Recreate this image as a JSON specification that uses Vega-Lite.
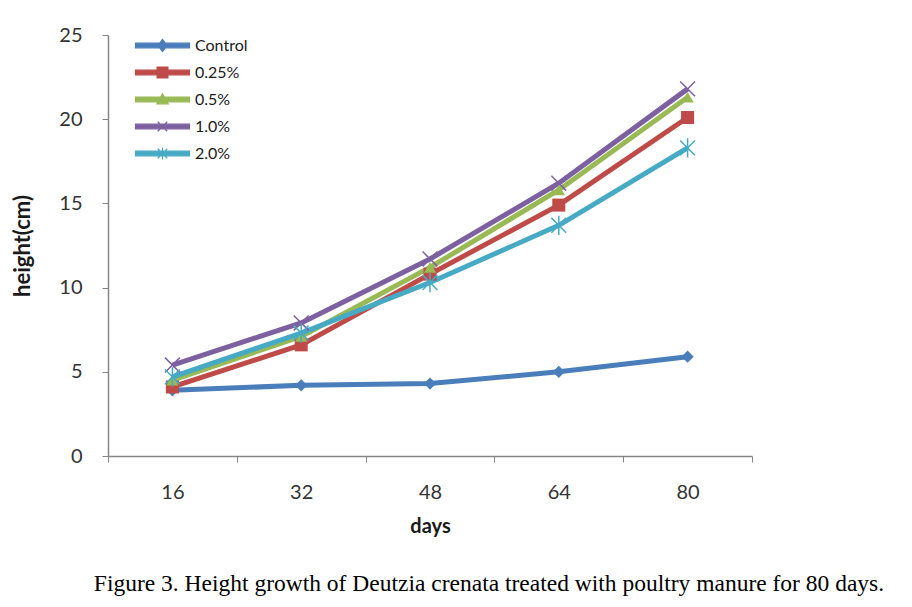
{
  "$schema": "https://vega.github.io/schema/vega-lite/v6.json",
  "autosize": "none",
  "width": 644,
  "height": 421,
  "padding": {"left": 108, "top": 35, "right": 160, "bottom": 151},
  "background": "white",
  "config": {
    "view": {"stroke": null},
    "font": "Lato"
  },
  "title": {
    "text": "Figure 3. Height growth of Deutzia crenata treated with poultry manure for 80 days.",
    "orient": "bottom",
    "anchor": "middle",
    "font": "Liberation Serif",
    "fontSize": 23.5,
    "fontWeight": "normal",
    "color": "#000000",
    "offset": 36,
    "dx": 59
  },
  "data": {
    "values": [
      {"days": "16", "series": "Control", "height": 3.9},
      {"days": "32", "series": "Control", "height": 4.2},
      {"days": "48", "series": "Control", "height": 4.3},
      {"days": "64", "series": "Control", "height": 5.0},
      {"days": "80", "series": "Control", "height": 5.9},
      {"days": "16", "series": "0.25%", "height": 4.1},
      {"days": "32", "series": "0.25%", "height": 6.6},
      {"days": "48", "series": "0.25%", "height": 10.8},
      {"days": "64", "series": "0.25%", "height": 14.9},
      {"days": "80", "series": "0.25%", "height": 20.1},
      {"days": "16", "series": "0.5%", "height": 4.5},
      {"days": "32", "series": "0.5%", "height": 7.1},
      {"days": "48", "series": "0.5%", "height": 11.2},
      {"days": "64", "series": "0.5%", "height": 15.8},
      {"days": "80", "series": "0.5%", "height": 21.3},
      {"days": "16", "series": "1.0%", "height": 5.4},
      {"days": "32", "series": "1.0%", "height": 7.9},
      {"days": "48", "series": "1.0%", "height": 11.7},
      {"days": "64", "series": "1.0%", "height": 16.2},
      {"days": "80", "series": "1.0%", "height": 21.8},
      {"days": "16", "series": "2.0%", "height": 4.7},
      {"days": "32", "series": "2.0%", "height": 7.3},
      {"days": "48", "series": "2.0%", "height": 10.3},
      {"days": "64", "series": "2.0%", "height": 13.7},
      {"days": "80", "series": "2.0%", "height": 18.3}
    ]
  },
  "encoding": {
    "x": {
      "field": "days",
      "type": "ordinal",
      "sort": ["16", "32", "48", "64", "80"],
      "scale": {"paddingInner": 0, "paddingOuter": 0},
      "axis": {
        "title": "days",
        "titleFont": "Lato",
        "titleFontSize": 20,
        "titleFontWeight": "bold",
        "titleColor": "#1a1a1a",
        "titlePadding": 14,
        "labelAngle": 0,
        "labelFont": "Lato",
        "labelFontSize": 20,
        "labelColor": "#333333",
        "labelPadding": 20,
        "tickBand": "extent",
        "tickSize": 6,
        "tickColor": "#868686",
        "domainColor": "#868686",
        "domainWidth": 1.5,
        "grid": false
      }
    },
    "y": {
      "field": "height",
      "type": "quantitative",
      "scale": {"domain": [0, 25]},
      "axis": {
        "title": "height(cm)",
        "titleFont": "Lato",
        "titleFontSize": 22,
        "titleFontWeight": "bold",
        "titleColor": "#1a1a1a",
        "titlePadding": 24,
        "values": [0, 5, 10, 15, 20, 25],
        "labelFont": "Lato",
        "labelFontSize": 20,
        "labelColor": "#333333",
        "labelPadding": 20,
        "tickSize": 6,
        "tickColor": "#868686",
        "domainColor": "#868686",
        "domainWidth": 1.5,
        "grid": false
      }
    }
  },
  "layer": [
    {
      "mark": {"type": "line", "strokeWidth": 5},
      "encoding": {
        "color": {
          "field": "series",
          "type": "nominal",
          "sort": ["Control", "0.25%", "0.5%", "1.0%", "2.0%"],
          "scale": {
            "domain": ["Control", "0.25%", "0.5%", "1.0%", "2.0%"],
            "range": ["#4A7EBB", "#BE4B48", "#98B954", "#7D60A0", "#46AAC5"]
          },
          "legend": {
            "title": null,
            "orient": "none",
            "legendX": 40,
            "legendY": -4,
            "padding": 0,
            "rowPadding": 4,
            "symbolSize": 729,
            "labelOffset": 18,
            "labelFont": "Lato",
            "labelFontSize": 16,
            "labelColor": "#1a1a1a",
            "encode": {
              "symbols": {
                "update": {
                  "shape": {"signal": "datum.value === 'Control' ? 'M-2,-0.17H2V0.17H-2Z M0,-0.45L0.34,0L0,0.45L-0.34,0Z' : datum.value === '0.25%' ? 'M-2,-0.17H2V0.17H-2Z M-0.4,-0.4H0.4V0.4H-0.4Z' : datum.value === '0.5%' ? 'M-2,-0.17H2V0.17H-2Z M0,-0.42L0.42,0.32H-0.42Z' : datum.value === '1.0%' ? 'M-2,-0.17H2V0.17H-2Z M-0.35,-0.35L0.35,0.35M-0.35,0.35L0.35,-0.35' : 'M-2,-0.17H2V0.17H-2Z M-0.35,-0.35L0.35,0.35M-0.35,0.35L0.35,-0.35M0,-0.45V0.45'"},
                  "fill": {"scale": "color", "field": "value"},
                  "stroke": {"scale": "color", "field": "value"},
                  "strokeWidth": {"value": 1.2},
                  "fillOpacity": {"value": 1},
                  "size": {"value": 729}
                }
              }
            }
          }
        }
      }
    },
    {
      "transform": [{"filter": "datum.series === 'Control'"}],
      "mark": {"type": "point", "shape": "diamond", "filled": true, "opacity": 1, "color": "#4A7EBB", "size": 150}
    },
    {
      "transform": [{"filter": "datum.series === '0.25%'"}],
      "mark": {"type": "point", "shape": "square", "filled": true, "opacity": 1, "color": "#BE4B48", "size": 170}
    },
    {
      "transform": [{"filter": "datum.series === '0.5%'"}],
      "mark": {"type": "point", "shape": "triangle-up", "filled": true, "opacity": 1, "color": "#98B954", "size": 150}
    },
    {
      "transform": [{"filter": "datum.series === '1.0%'"}],
      "mark": {"type": "point", "shape": "M-1,-1L1,1M-1,1L1,-1", "filled": false, "opacity": 1, "color": "#7D60A0", "strokeWidth": 1.5, "size": 220}
    },
    {
      "transform": [{"filter": "datum.series === '2.0%'"}],
      "mark": {"type": "point", "shape": "M-1,-1L1,1M-1,1L1,-1M0,-1.3V1.3", "filled": false, "opacity": 1, "color": "#46AAC5", "strokeWidth": 1.5, "size": 220}
    }
  ]
}
